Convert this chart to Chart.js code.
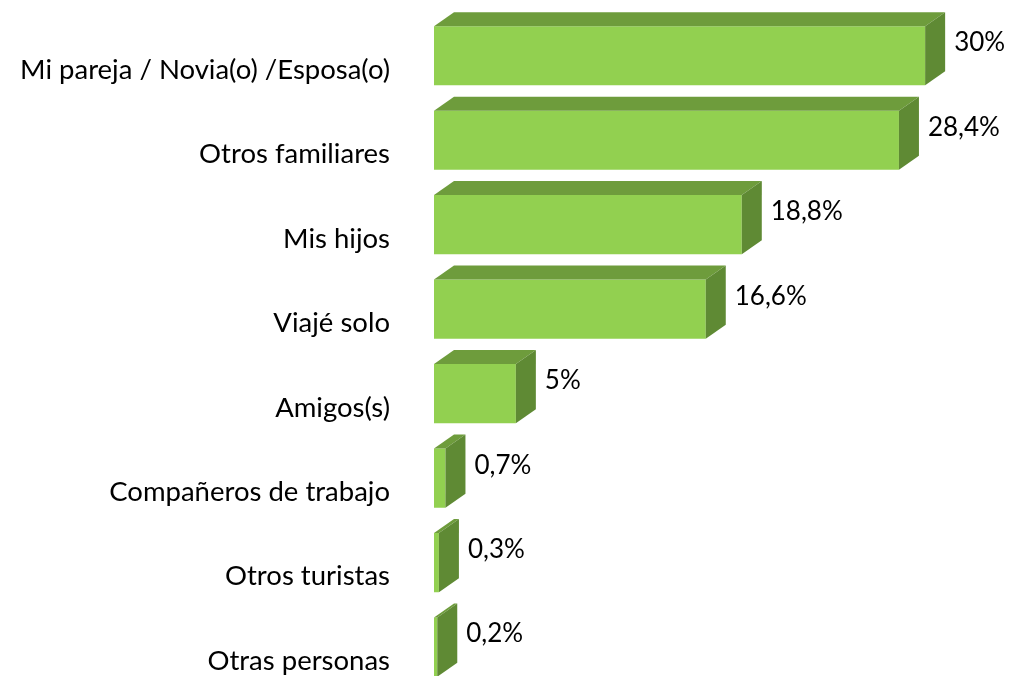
<!DOCTYPE html>
<html>
<head>
<meta charset="utf-8">
<script src="https://cdn.jsdelivr.net/npm/chart.js@4/dist/chart.umd.min.js"></script>
<style>
  html, body { margin: 0; padding: 0; background: #ffffff; overflow: hidden; }
  #wrap { position: absolute; left: 0; top: 0; width: 1013px; height: 690px; }
</style>
</head>
<body>
<div id="wrap"><canvas id="c"></canvas></div>
<script>
const categories = [
  "Mi pareja / Novia(o) /Esposa(o)",
  "Otros familiares",
  "Mis hijos",
  "Viajé solo",
  "Amigos(s)",
  "Compañeros de trabajo",
  "Otros turistas",
  "Otras personas"
];
const values = [30, 28.4, 18.8, 16.6, 5, 0.7, 0.3, 0.2];
const axisMax = 35;

const FRONT = '#92D050';
const TOP = '#6E9C3C';
const SIDE = '#5F8A34';
const DX = 20, DY = 14;

function fmt(v) { return String(v).replace('.', ',') + '%'; }

const bar3d = {
  id: 'bar3d',
  afterDatasetsDraw(chart) {
    const ctx = chart.ctx;
    const meta = chart.getDatasetMeta(0);
    ctx.save();
    meta.data.forEach((el, i) => {
      const p = el.getProps(['x', 'y', 'base', 'height'], true);
      const x0 = p.base, x1 = p.x;
      const top = p.y - p.height / 2, bot = p.y + p.height / 2;
      ctx.fillStyle = TOP;
      ctx.beginPath();
      ctx.moveTo(x0, top);
      ctx.lineTo(x0 + DX, top - DY);
      ctx.lineTo(x1 + DX, top - DY);
      ctx.lineTo(x1, top);
      ctx.closePath();
      ctx.fill();
      ctx.fillStyle = SIDE;
      ctx.beginPath();
      ctx.moveTo(x1, top);
      ctx.lineTo(x1 + DX, top - DY);
      ctx.lineTo(x1 + DX, bot - DY);
      ctx.lineTo(x1, bot);
      ctx.closePath();
      ctx.fill();
      ctx.fillStyle = '#000000';
      ctx.font = '26px Lato';
      ctx.textAlign = 'left';
      ctx.textBaseline = 'middle';
      ctx.fillText(fmt(values[i]), x1 + DX + 9, p.y - 13);
    });
    ctx.restore();
  }
};

new Chart(document.getElementById('c'), {
  type: 'bar',
  data: {
    labels: categories,
    datasets: [{
      data: values,
      backgroundColor: FRONT,
      borderWidth: 0,
      barPercentage: 0.70,
      categoryPercentage: 1.0
    }]
  },
  options: {
    indexAxis: 'y',
    responsive: true,
    maintainAspectRatio: false,
    animation: false,
    layout: { padding: { left: 0, right: 6, top: 13.5, bottom: 0 } },
    plugins: { legend: { display: false }, tooltip: { enabled: false } },
    scales: {
      x: {
        display: false,
        min: 0,
        max: axisMax
      },
      y: {
        afterFit(scale) { scale.width = 434; },
        grid: { display: false, drawTicks: true, tickLength: 44 },
        border: { display: false },
        ticks: {
          color: '#000000',
          font: { family: 'Lato', size: 27.5, lineHeight: 0.05 },
          padding: 0,
          labelOffset: 14
        }
      }
    }
  },
  plugins: [bar3d]
});
</script>
</body>
</html>
